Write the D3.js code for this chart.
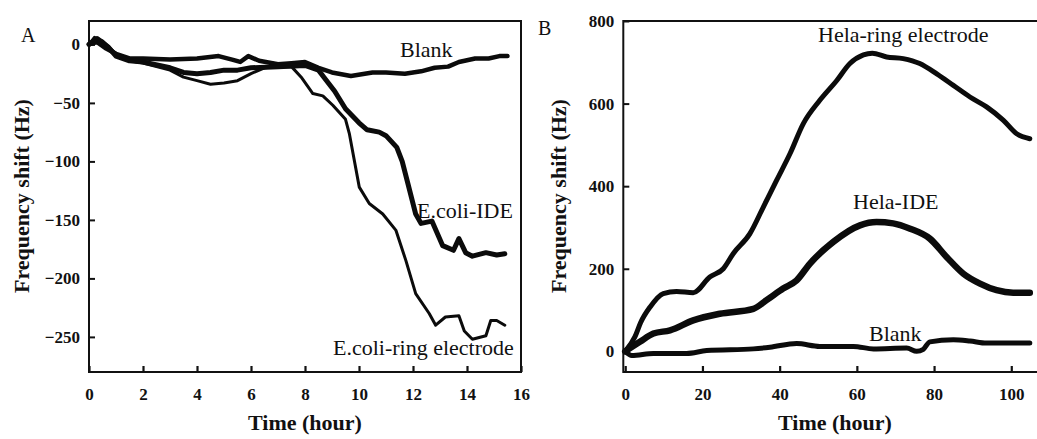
<!DOCTYPE html>
<html>
<head>
<meta charset="utf-8">
<script src="https://cdn.jsdelivr.net/npm/d3@7"></script>
<style>
  body { margin: 0; background: #fff; }
  svg { display: block; }
  .tick text { font-family: "Liberation Serif", "Times New Roman", serif; font-weight: bold; font-size: 17px; fill: #111; }
  .title { font-family: "Liberation Serif", "Times New Roman", serif; font-weight: bold; font-size: 22px; fill: #111; }
  .lab { font-family: "Liberation Serif", "Times New Roman", serif; font-size: 22px; fill: #111; }
</style>
</head>
<body>
<svg id="chart" width="1037" height="439"></svg>
<script>
// panel A: E.coli, time (hour) vs frequency shift (Hz)
const aTicksX = [0, 2, 4, 6, 8, 10, 12, 14, 16];
const aTicksY = [0, -50, -100, -150, -200, -250];
const aBlank = [[0,0],[0.3,2],[0.6,-3],[1,-8],[1.5,-12],[2,-12],[3,-13],[4,-12],[4.8,-10],[5.3,-13],[5.6,-15],[5.9,-10],[6.3,-14],[7,-17],[7.5,-16],[8,-15],[8.5,-20],[9,-24],[9.7,-27],[10.5,-24],[11,-24],[11.7,-25],[12.3,-23],[12.8,-20],[13.3,-19],[13.7,-15],[14.3,-12],[14.8,-12],[15.2,-10],[15.5,-10]];
const aIDE = [[0,0],[0.3,5],[0.7,-2],[1,-10],[1.5,-14],[2,-15],[3,-20],[3.5,-24],[4,-25],[4.5,-24],[5,-22],[5.5,-22],[6,-20],[7,-19],[8,-18],[8.5,-22],[8.7,-28],[9.1,-40],[9.5,-55],[10,-67],[10.3,-73],[10.75,-75],[11,-78],[11.4,-88],[11.6,-100],[11.8,-118],[12.1,-145],[12.3,-153],[12.7,-151],[13.1,-172],[13.5,-176],[13.7,-166],[13.95,-178],[14.2,-181],[14.7,-178],[15.1,-180],[15.4,-179]];
const aRing = [[0,0],[0.2,6],[0.5,3],[1,-8],[1.5,-14],[2,-16],[3,-22],[3.5,-28],[4,-31],[4.5,-34],[5,-33],[5.5,-31],[6,-25],[6.5,-20],[7,-19],[7.5,-19],[7.86,-28],[8.29,-42],[8.66,-44],[9.03,-52],[9.5,-64],[9.64,-76],[10.01,-122],[10.38,-136],[10.88,-145],[11.37,-159],[11.74,-185],[12.1,-213],[12.6,-230],[12.84,-240],[13.2,-233],[13.7,-232],[13.9,-245],[14.2,-252],[14.7,-249],[14.88,-236],[15.1,-236],[15.4,-240]];

// panel B: Hela
const bTicksX = [0, 20, 40, 60, 80, 100];
const bTicksY = [0, 200, 400, 600, 800];
const bRing = [[0,0],[2.5,35],[4,70],[6.4,107],[9.85,140],[13.3,145],[17.6,142],[21.9,180],[25.4,200],[28,237],[32.3,285],[35.8,350],[39.2,414],[42.7,479],[46.1,551],[50.4,608],[54.8,656],[58.2,697],[61.7,718],[64,722],[67.7,713],[72,709],[76.3,697],[80.7,672],[85,644],[89.3,616],[93.6,592],[97.9,560],[101.4,527],[104.8,515]];
const bIDE = [[0,0],[3.8,23],[7.3,43],[11.6,51],[17.6,75],[24.5,91],[33.2,103],[36.6,124],[40.9,152],[44.4,172],[47.8,212],[53.9,265],[60.8,305],[65.1,313],[69.4,310],[73.8,297],[78.9,273],[83.3,228],[87.6,188],[91.9,164],[96.2,148],[100.5,142],[104.8,142]];
const bBlank = [[0,0],[1.7,-10],[7.3,-5],[15.9,-5],[21.1,2],[33.2,6],[37.5,10],[44.4,19],[50.4,12],[59.1,12],[64.3,6],[72.9,8],[75.5,0],[77.2,5],[78.9,23],[85,28],[89.3,25],[93.6,20],[104.8,20]];

const svg = d3.select("#chart");

function drawPanel(opt) {
    const x = d3.scaleLinear().domain(opt.xDomain).range(opt.xRange);
    const y = d3.scaleLinear().domain(opt.yDomain).range([372, 21]);
    const g = svg.append("g");

    g.append("g")
        .attr("transform", "translate(0,372)")
        .call(d3.axisBottom(x).tickValues(opt.ticksX).tickSizeInner(-6).tickSizeOuter(0).tickPadding(16))
        .call(a => a.select(".domain").remove())
        .call(a => a.selectAll("line").attr("stroke", "#111").attr("stroke-width", 2.2));

    g.append("g")
        .attr("transform", `translate(${opt.xRange[0]},0)`)
        .call(d3.axisLeft(y).tickValues(opt.ticksY).tickSizeInner(-6).tickSizeOuter(0).tickPadding(9))
        .call(a => a.select(".domain").remove())
        .call(a => a.selectAll("line").attr("stroke", "#111").attr("stroke-width", 2));

    // frame
    g.append("rect")
        .attr("x", opt.xRange[0]).attr("y", 21)
        .attr("width", opt.xRange[1] - opt.xRange[0]).attr("height", 351)
        .attr("fill", "none").attr("stroke", "#111").attr("stroke-width", 2);

    const line = d3.line().x(d => x(d[0])).y(d => y(d[1])).curve(opt.curve);
    opt.series.forEach(s => {
        g.append("path")
            .datum(s.data)
            .attr("d", line)
            .attr("fill", "none")
            .attr("stroke", "#0b0b0b")
            .attr("stroke-width", s.w)
            .attr("stroke-linejoin", "round")
            .attr("stroke-linecap", "round");
    });

    opt.labels.forEach(l => {
        g.append("text").attr("class", "lab").attr("x", l[1]).attr("y", l[2]).text(l[0]);
    });

    g.append("text").attr("class", "title")
        .attr("x", opt.xTitle).attr("y", 430)
        .attr("text-anchor", "middle").text("Time (hour)");
    g.append("text").attr("class", "title")
        .attr("transform", `translate(${opt.yTitle},196) rotate(-90)`)
        .attr("text-anchor", "middle").text("Frequency shift (Hz)");
    g.append("text").attr("class", "lab").style("font-size", "20px")
        .attr("x", opt.letter[1]).attr("y", opt.letter[2]).text(opt.letter[0]);
}

drawPanel({
    xDomain: [0, 16], xRange: [89, 521], yDomain: [-280, 20], curve: d3.curveLinear,
    ticksX: aTicksX, ticksY: aTicksY,
    series: [{data: aBlank, w: 4.5}, {data: aIDE, w: 5}, {data: aRing, w: 3}],
    labels: [["Blank", 400, 57], ["E.coli-IDE", 417, 218], ["E.coli-ring electrode", 333, 355]],
    xTitle: 305, yTitle: 29, letter: ["A", 21, 42]
});

drawPanel({
    xDomain: [-0.5, 107], xRange: [623.3, 1038.3], yDomain: [-50, 800], curve: d3.curveMonotoneX,
    ticksX: bTicksX, ticksY: bTicksY,
    series: [{data: bBlank, w: 5}, {data: bIDE, w: 6.5}, {data: bRing, w: 5}],
    labels: [["Hela-ring electrode", 818, 42], ["Hela-IDE", 853, 209], ["Blank", 869, 341]],
    xTitle: 835, yTitle: 566, letter: ["B", 538, 35]
});
</script>
</body>
</html>
